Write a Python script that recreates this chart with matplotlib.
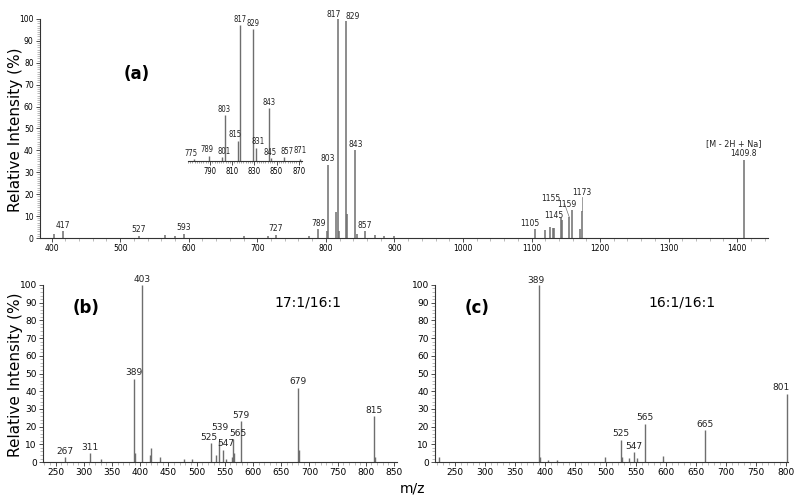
import matplotlib
matplotlib.use("Agg")
import matplotlib.pyplot as plt
from matplotlib.ticker import MultipleLocator

# peak lists (m/z, relative intensity %)
mz_a = [403, 417, 527, 565, 580, 593, 680, 715, 727, 775, 789, 801, 803, 815, 817,
        819, 829, 831, 843, 845, 857, 871, 885, 900, 1105, 1120, 1127, 1131, 1133,
        1143, 1145, 1155, 1159, 1171, 1173, 1409.8]
int_a = [2, 3, 1, 1.5, 1, 2, 1, 1, 1.5, 1, 4, 3, 33.5, 12, 100,
         3, 99, 11, 40, 2, 3, 1.5, 1, 1, 4, 3.5, 5, 4.5, 4.5,
         9, 8, 9.6, 12.7, 4, 12.5, 35.8]
labels_a = [417, 527, 593, 727, 789, 803, 817, 829, 843, 857, 1105, 1145, 1155,
            1159, 1173, 1409.8]

mz_inset = [775, 789, 801, 803, 815, 817, 829, 831, 843, 845, 857, 871]
int_inset = [1.5, 4, 3, 34, 15, 100, 97, 10, 39, 2, 3, 1.5]

mz_b = [267, 311, 330, 389, 391, 403, 417, 419, 435, 477, 491, 525, 535, 539, 547,
        553, 563, 565, 567, 579, 679, 681, 815, 817]
int_b = [2.6, 5, 2, 47, 5, 100, 4, 8, 2.6, 1.5, 2, 10.5, 4, 12, 7,
         2, 3, 13, 5, 23, 42, 7, 26, 3]
labels_b = [267, 311, 389, 403, 525, 539, 547, 565, 579, 679, 815]

mz_c = [223, 389, 391, 405, 419, 499, 525, 527, 539, 547, 553, 565, 595, 665, 801]
int_c = [3, 100, 3, 1, 1, 3, 12.6, 3, 2.5, 5.5, 2.5, 21.7, 3.5, 18, 38.5]
labels_c = [389, 525, 547, 565, 665, 801]

PEAK = "#6e6e6e"
AXC = "#333333"


def style_axes(ax, xmaj, xmin, ymin, fs):
    for s in ["top", "right"]:
        ax.spines[s].set_visible(False)
    for s in ["left", "bottom"]:
        ax.spines[s].set_color(AXC)
        ax.spines[s].set_linewidth(0.8)
    ax.set_ylim(0, 100)
    ax.yaxis.set_major_locator(MultipleLocator(10))
    ax.yaxis.set_minor_locator(MultipleLocator(ymin))
    ax.xaxis.set_major_locator(MultipleLocator(xmaj))
    ax.xaxis.set_minor_locator(MultipleLocator(xmin))
    ax.tick_params(which="major", length=3, width=0.6, color=AXC, labelsize=fs, pad=1.5)
    ax.tick_params(which="minor", length=2, width=0.4, color="#888888")


def draw_peaks(ax, mz, inten, lw=1.0):
    ax.vlines(mz, 0, inten, color=PEAK, lw=lw, clip_on=False)


def label_peaks(ax, mz, inten, labels, fs, offsets=None, **kw):
    offsets = offsets or {}
    lookup = dict(zip(mz, inten))
    for m in labels:
        dx, dy = offsets.get(m, (0, 1))
        ax.annotate("{:g}".format(m), (m, lookup[m]), xytext=(dx, dy),
                    textcoords="offset points", ha="center", va="bottom",
                    fontsize=fs, color="#222222", **kw)


fig = plt.figure(figsize=(8, 4.99), dpi=100)

# ---- (a) full spectrum
ax_a = fig.add_axes([0.05, 0.523, 0.91, 0.439])
draw_peaks(ax_a, mz_a, int_a, lw=1.1)
ax_a.set_xlim(383, 1445)
style_axes(ax_a, 100, 20, 1, 5.5)
off_a = {817: (-3, 0), 829: (5, 0), 1155: (-13, 10), 1159: (-4, 1),
         1145: (-6, 0.5), 1105: (-4, 1), 1173: (0, 10), 527: (0, 1)}
label_peaks(ax_a, mz_a, int_a, labels_a, 5.5, off_a)
ax_a.plot([1148, 1155], [15.8, 9.6], color="#777777", lw=0.5)
ax_a.plot([1173, 1173], [12.5, 18.5], color="#777777", lw=0.5)
ax_a.text(1395, 41, "[M - 2H + Na]", ha="center", va="bottom", fontsize=6.5,
          stretch="condensed", color="#222222")
ax_a.text(0.133, 0.75, "(a)", transform=ax_a.transAxes, fontsize=12,
          fontweight="bold", ha="center", va="center")

# ---- inset zoom of the 775-871 region
ax_in = fig.add_axes([0.235, 0.677, 0.1425, 0.2725])
draw_peaks(ax_in, mz_inset, int_inset, lw=1.0)
ax_in.set_xlim(770, 873)
ax_in.set_ylim(0, 100)
for s in ["top", "right", "left"]:
    ax_in.spines[s].set_visible(False)
ax_in.spines["bottom"].set_color(AXC)
ax_in.patch.set_alpha(0)
ax_in.set_yticks([])
ax_in.xaxis.set_minor_locator(MultipleLocator(2))
ax_in.set_xticks([790, 810, 830, 850, 870])
ax_in.tick_params(which="major", length=3, width=0.6, labelsize=5.5, pad=1, color=AXC)
ax_in.tick_params(which="minor", length=1.5, width=0.4, color="#666666")
for lab in ax_in.get_xticklabels():
    lab.set_stretch("condensed")
off_in = {815: (-2, 1), 831: (2, 1), 845: (-1, 1), 857: (2, 1), 871: (0, 3),
          775: (-2, 1), 789: (-1.5, 1), 801: (1, 1)}
label_peaks(ax_in, mz_inset, int_inset, mz_inset, 5.5, off_in, stretch="condensed")

# ---- (b) 17:1/16:1
ax_b = fig.add_axes([0.054, 0.074, 0.442, 0.355])
draw_peaks(ax_b, mz_b, int_b)
ax_b.set_xlim(228, 855)
style_axes(ax_b, 50, 10, 2, 6.5)
off_b = {525: (-1, 1), 539: (1, 6), 547: (2, 1), 565: (3, 1)}
label_peaks(ax_b, mz_b, int_b, labels_b, 6.5, off_b)
ax_b.text(0.12, 0.87, "(b)", transform=ax_b.transAxes, fontsize=12,
          fontweight="bold", ha="center", va="center")
ax_b.text(0.75, 0.9, "17:1/16:1", transform=ax_b.transAxes, fontsize=10,
          ha="center", va="center")

# ---- (c) 16:1/16:1
ax_c = fig.add_axes([0.544, 0.074, 0.441, 0.355])
draw_peaks(ax_c, mz_c, int_c)
ax_c.set_xlim(217, 803)
style_axes(ax_c, 50, 10, 2, 6.5)
off_c = {389: (-2, 0), 801: (-4, 1)}
label_peaks(ax_c, mz_c, int_c, labels_c, 6.5, off_c)
ax_c.text(0.12, 0.87, "(c)", transform=ax_c.transAxes, fontsize=12,
          fontweight="bold", ha="center", va="center")
ax_c.text(0.7, 0.9, "16:1/16:1", transform=ax_c.transAxes, fontsize=10,
          ha="center", va="center")

fig.text(0.019, 0.739, "Relative Intensity (%)", fontsize=11, rotation=90,
         ha="center", va="center")
fig.text(0.019, 0.248, "Relative Intensity (%)", fontsize=11, rotation=90,
         ha="center", va="center")
fig.text(0.516, 0.022, "m/z", fontsize=10, ha="center", va="center")

fig.savefig("out.png", dpi=100)
